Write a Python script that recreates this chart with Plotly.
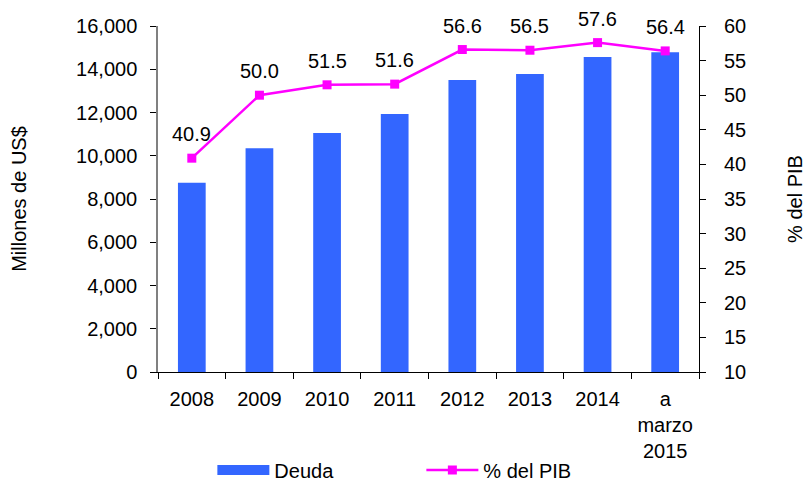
import plotly.graph_objects as go

categories = ["2008", "2009", "2010", "2011", "2012", "2013", "2014", "a<br>marzo<br>2015"]
deuda = [8750, 10350, 11050, 11930, 13500, 13780, 14570, 14790]
pct_pib = [40.9, 50.0, 51.5, 51.6, 56.6, 56.5, 57.6, 56.4]
left_ticks = [0, 2000, 4000, 6000, 8000, 10000, 12000, 14000, 16000]
right_ticks = [10, 15, 20, 25, 30, 35, 40, 45, 50, 55, 60]

BLUE = "#3366FF"
MAGENTA = "#FF00FF"
FONT = "Liberation Sans, Arial, sans-serif"
FS = 20

fig = go.Figure()
fig.add_trace(go.Bar(x=categories, y=deuda, marker=dict(color=BLUE, line=dict(width=0)),
                     name="Deuda", showlegend=False, yaxis="y"))
# legend proxy for the bar series (wide rectangle swatch)
fig.add_trace(go.Scatter(x=[categories[0]], y=[None], mode="lines", line=dict(color=BLUE, width=11),
                         name="Deuda", yaxis="y", hoverinfo="skip"))
fig.add_trace(go.Scatter(x=categories, y=pct_pib, mode="lines+markers", name="% del PIB",
                         line=dict(color=MAGENTA, width=2.5),
                         marker=dict(symbol="square", size=9, color=MAGENTA),
                         yaxis="y2"))

for i, v in enumerate(pct_pib):
    fig.add_annotation(x=i, xref="x", y=v, yref="y2", text=f"{v:.1f}", showarrow=False,
                       yshift=24, font=dict(family=FONT, size=FS, color="black"))

fig.update_layout(
    width=807, height=485,
    margin=dict(l=158, r=108, t=26, b=113, autoexpand=False),
    paper_bgcolor="white", plot_bgcolor="white",
    font=dict(family=FONT, size=FS, color="black"),
    bargap=0.59,
    xaxis=dict(type="category", categoryorder="array", categoryarray=categories,
               showline=True, linecolor="black", linewidth=1,
               ticks="outside", ticklen=6, tickcolor="black", tickson="boundaries",
               showgrid=False, tickfont=dict(size=FS), tickangle=0,
               ticklabelstandoff=9, automargin=False),
    yaxis=dict(range=[0, 16000], tickvals=left_ticks, tickformat=",d",
               showline=True, linecolor="#808080", linewidth=1.5,
               ticks="outside", ticklen=6, tickcolor="black", showgrid=False,
               ticklabelstandoff=9, zeroline=False, automargin=False,
               title=dict(text="Millones de US$", standoff=44, font=dict(size=FS))),
    yaxis2=dict(range=[10, 60], tickvals=right_ticks, overlaying="y", side="right",
                showline=True, linecolor="black", linewidth=1,
                ticks="outside", ticklen=6, tickcolor="black", showgrid=False,
                ticklabelstandoff=14, zeroline=False, automargin=False,
                title=dict(text="% del PIB", standoff=42, font=dict(size=FS))),
    legend=dict(orientation="h", x=0.1005, y=0.031, xref="paper", yref="container",
                xanchor="left", yanchor="middle",
                itemwidth=52, entrywidth=142, font=dict(size=FS),
                bgcolor="rgba(0,0,0,0)"),
)

fig.write_html("out.html", config={"displayModeBar": False},
               post_script="document.body.style.margin='0px';")
